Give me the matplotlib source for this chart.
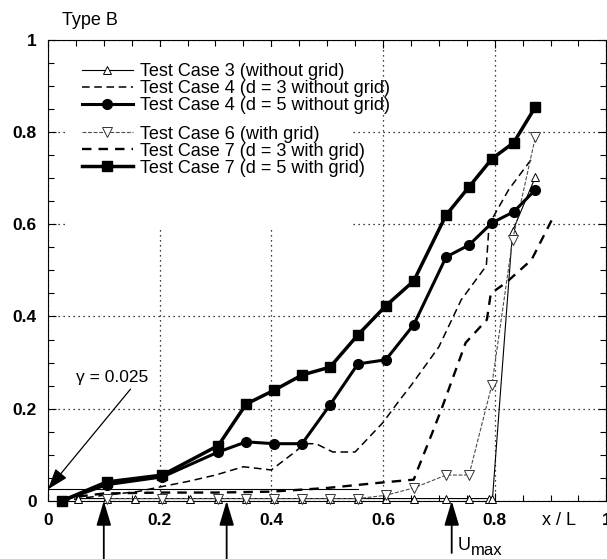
import matplotlib.pyplot as plt
from matplotlib.patches import Rectangle
from matplotlib.ticker import MultipleLocator, FuncFormatter

plt.rcParams['font.family'] = ['Liberation Sans', 'DejaVu Sans']

# stations along the model (x / L)
x_tc3 = [0.054, 0.105, 0.155, 0.205, 0.255, 0.305, 0.355, 0.405, 0.455, 0.505,
         0.555, 0.605, 0.655, 0.713, 0.754, 0.789, 0.796, 0.832, 0.873]
y_tc3 = [0.005, 0.005, 0.005, 0.005, 0.005, 0.005, 0.005, 0.005, 0.005, 0.005,
         0.005, 0.005, 0.005, 0.005, 0.005, 0.005, 0.005, 0.585, 0.703]

x_tc4_d3 = [0.025, 0.1, 0.16, 0.2, 0.25, 0.3, 0.35, 0.4, 0.44, 0.46, 0.48, 0.51,
            0.55, 0.6, 0.63, 0.65, 0.7, 0.74, 0.785, 0.79, 0.825, 0.865]
y_tc4_d3 = [0.0, 0.012, 0.02, 0.03, 0.042, 0.056, 0.074, 0.067, 0.104, 0.124, 0.124,
            0.106, 0.106, 0.17, 0.219, 0.25, 0.334, 0.436, 0.51, 0.6, 0.675, 0.74]

x_tc4_d5 = [0.025, 0.105, 0.205, 0.305, 0.355, 0.405, 0.455, 0.505, 0.555, 0.605,
            0.655, 0.713, 0.754, 0.795, 0.834, 0.873]
y_tc4_d5 = [0.0, 0.035, 0.052, 0.106, 0.128, 0.124, 0.124, 0.208, 0.297, 0.306,
            0.382, 0.529, 0.555, 0.603, 0.627, 0.675]

x_tc6 = [0.105, 0.205, 0.305, 0.355, 0.405, 0.455, 0.505, 0.555, 0.605, 0.655,
         0.713, 0.754, 0.795, 0.832, 0.873]
y_tc6 = [0.005, 0.005, 0.005, 0.005, 0.005, 0.005, 0.005, 0.005, 0.012, 0.028,
         0.056, 0.056, 0.252, 0.566, 0.79]

x_tc7_d3 = [0.025, 0.1, 0.2, 0.3, 0.4, 0.5, 0.55, 0.6, 0.655, 0.664, 0.688, 0.705,
            0.748, 0.786, 0.793, 0.82, 0.866, 0.905]
y_tc7_d3 = [0.005, 0.016, 0.018, 0.018, 0.02, 0.028, 0.034, 0.04, 0.046, 0.074, 0.147,
            0.2, 0.343, 0.393, 0.45, 0.473, 0.523, 0.616]

x_tc7_d5 = [0.025, 0.105, 0.205, 0.305, 0.355, 0.405, 0.455, 0.505, 0.555, 0.605,
            0.655, 0.713, 0.754, 0.795, 0.834, 0.873]
y_tc7_d5 = [0.0, 0.041, 0.056, 0.12, 0.21, 0.24, 0.273, 0.29, 0.36, 0.423,
            0.477, 0.62, 0.681, 0.742, 0.777, 0.855]

gamma_ref = 0.025
gamma_ref_end = 0.555
section_x = [0.1, 0.32]
umax_x = 0.723

fig = plt.figure(figsize=(6.07, 5.59), dpi=100)
ax = fig.add_axes([0.079, 0.104, 0.92, 0.8247])
ax.set_xlim(0, 1)
ax.set_ylim(0, 1)

ax.grid(True, which='major', linestyle=(0, (1, 3)), color='k', linewidth=0.9)
ax.set_axisbelow(True)
# white area behind the legend hides the grid there
ax.add_patch(Rectangle((0.03, 0.59), 0.515, 0.395, transform=ax.transAxes,
                       facecolor='white', edgecolor='none', zorder=1))

ax.plot([0, gamma_ref_end], [gamma_ref, gamma_ref], color='k', lw=0.8, zorder=2)

l3, = ax.plot(x_tc3, y_tc3, color='k', lw=0.8, marker='^', ms=6,
              mfc='white', mec='k', mew=0.7, clip_on=False, zorder=4)
l4a, = ax.plot(x_tc4_d3, y_tc4_d3, color='k', lw=1.1, dashes=(5, 3), zorder=3)
l4b, = ax.plot(x_tc4_d5, y_tc4_d5, color='k', lw=2.2, marker='o', ms=7,
               clip_on=False, zorder=5)
l6, = ax.plot(x_tc6, y_tc6, color='0.3', lw=0.8, linestyle=(0, (3.5, 1.5)), marker='v',
              ms=7, mfc='white', mec='0.2', mew=0.7, clip_on=False, zorder=4)
l7a, = ax.plot(x_tc7_d3, y_tc7_d3, color='k', lw=1.7, dashes=(4, 3), zorder=3)
l7b, = ax.plot(x_tc7_d5, y_tc7_d5, color='k', lw=2.5, marker='s', ms=7,
               clip_on=False, zorder=6)

leg_kw = dict(loc='upper left', frameon=False, fontsize=13, handlelength=2.8,
              handletextpad=0.4, labelspacing=0.0, borderpad=0, borderaxespad=0)
leg1 = ax.legend([l3, l4a, l4b],
                 ['Test Case 3 (without grid)', 'Test Case 4 (d = 3 without grid)',
                  'Test Case 4 (d = 5 without grid)'],
                 bbox_to_anchor=(0.061, 0.949), **leg_kw)
ax.add_artist(leg1)
ax.legend([l6, l7a, l7b],
          ['Test Case 6 (with grid)', 'Test Case 7 (d = 3 with grid)',
           'Test Case 7 (d = 5 with grid)'],
          bbox_to_anchor=(0.061, 0.814), **leg_kw)

ax.xaxis.set_major_locator(MultipleLocator(0.2))
ax.yaxis.set_major_locator(MultipleLocator(0.2))
ax.xaxis.set_minor_locator(MultipleLocator(0.05))
ax.yaxis.set_minor_locator(MultipleLocator(0.05))
fmt = FuncFormatter(lambda v, pos: '%g' % round(v, 2))
ax.xaxis.set_major_formatter(fmt)
ax.yaxis.set_major_formatter(fmt)
ax.tick_params(which='both', direction='in', top=True, right=True, width=0.8)
ax.tick_params(which='major', length=6)
ax.tick_params(which='minor', length=4)
ax.tick_params(axis='x', pad=9)
ax.tick_params(axis='y', pad=8)
for lab in ax.get_xticklabels() + ax.get_yticklabels():
    lab.set_fontweight('bold')
    lab.set_fontsize(12.5)

fig.text(0.102, 0.963, 'Type B', fontsize=13, va='center')
ax.text(0.915, -0.043, 'x / L', transform=ax.transAxes, fontsize=13,
        ha='center', va='center')

ax.annotate('\u03b3 = 0.025', xy=(0, gamma_ref), xytext=(0.05, 0.267),
            fontsize=12.5, va='center', ha='left',
            arrowprops=dict(arrowstyle='-|>,head_length=1.3,head_width=0.45',
                            color='k', lw=0.9, shrinkA=1, shrinkB=0,
                            mutation_scale=10, relpos=(0.8, 0)))

for xs in section_x:
    ax.annotate('', xy=(xs, 0), xytext=(xs, -0.13),
                arrowprops=dict(arrowstyle='-|>,head_length=1.5,head_width=0.45',
                                color='k', lw=1.3, shrinkA=0, shrinkB=0,
                                mutation_scale=10),
                annotation_clip=False)
ax.annotate('', xy=(umax_x, 0), xytext=(umax_x, -0.113),
            arrowprops=dict(arrowstyle='-|>,head_length=1.5,head_width=0.45',
                            color='k', lw=1.3, shrinkA=0, shrinkB=0,
                            mutation_scale=10),
            annotation_clip=False)
ax.text(umax_x + 0.01, -0.097, 'U', transform=ax.transData, fontsize=13,
        ha='left', va='center')
ax.text(umax_x + 0.034, -0.107, 'max', transform=ax.transData, fontsize=12,
        ha='left', va='center')

fig.savefig('out.png', dpi=100)
